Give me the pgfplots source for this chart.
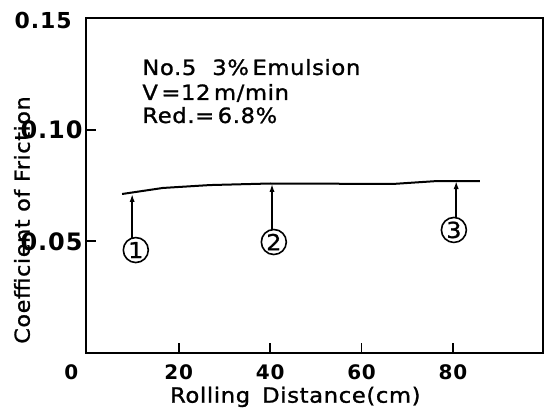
\documentclass[border=0pt]{standalone}
\usepackage{fontspec}
\setmainfont{DejaVu Sans}
\newfontfamily\lbl[FakeStretch=1.08,LetterSpace=3,FakeBold=1.2]{DejaVu Sans}
\newfontfamily\num[FakeStretch=1.0,LetterSpace=4]{DejaVu Sans}
\usepackage{pgfplots}
\pgfplotsset{compat=1.18}
\usetikzlibrary{arrows.meta}

\begin{document}
\begin{tikzpicture}
\path[use as bounding box] (0,0) rectangle (272pt,207pt);
\begin{axis}[
  at={(43pt,30.5pt)}, anchor=south west,
  scale only axis, width=228.5pt, height=167.5pt,
  xmin=-0.3, xmax=99.7, ymin=0, ymax=0.15,
  clip=false,
  axis line style={line width=1pt},
  every tick/.style={black, line width=0.9pt},
  major tick length=5pt,
  tick align=inside,
  xtick pos=bottom, ytick pos=left,
  xtick={20,40,60,80},
  ytick={0.05,0.10},
  yticklabels={0.05,0.10},
  /pgf/number format/assume math mode=true,
  xticklabel style={font=\num\bfseries\fontsize{10}{12}\selectfont, yshift=-2.5pt},
  yticklabel style={font=\num\bfseries\fontsize{12}{13}\selectfont, inner sep=1.5pt},
  extra y ticks={0.15}, extra y tick labels={0.15},
  extra y tick style={major tick length=0pt,
    yticklabel style={font=\num\bfseries\fontsize{11}{12}\selectfont, xshift=-5.5pt, yshift=-1pt}},
  extra x ticks={0}, extra x tick labels={0},
  extra x tick style={major tick length=0pt, xticklabel style={xshift=-8pt}},
  xlabel={Rolling\hspace{6pt}Distance(cm)},
  xlabel style={at={(axis description cs:0.458,-0.131)}, anchor=center,
    font=\lbl\fontsize{10.5}{10}\selectfont},
  ylabel={Coefficient of Friction},
  ylabel style={at={(axis description cs:-0.14,0.397)}, anchor=center,
    font=\lbl\fontsize{10.3}{10}\selectfont},
]
% friction coefficient along the rolling distance
\addplot[black, line width=1pt] coordinates {
  (7.6,0.0712) (16.5,0.0739) (26.8,0.0752) (40.0,0.0759)
  (66.9,0.0757) (76.5,0.0770) (85.9,0.0770)
};
% sampling positions
\addplot[black, line width=0.75pt, -{Latex[length=4pt,width=2.6pt]}]
  coordinates {(9.8,0.0515) (9.8,0.0712)};
\addplot[black, line width=0.75pt, -{Latex[length=4pt,width=2.6pt]}]
  coordinates {(40.4,0.0551) (40.4,0.0757)};
\addplot[black, line width=0.75pt, -{Latex[length=4pt,width=2.6pt]}]
  coordinates {(80.7,0.0605) (80.7,0.0770)};
\addplot[draw=none, mark=none, point meta=explicit symbolic,
  nodes near coords={\pgfplotspointmeta},
  every node near coord/.style={anchor=center, circle, draw, line width=0.8pt,
    minimum size=12.5pt, inner sep=0pt, font=\lbl\fontsize{11}{10}\selectfont}]
  coordinates {(10.6,0.0461)[1] (40.8,0.0497)[2] (80.2,0.0551)[3]};
% test conditions
\node[anchor=base west, inner sep=0pt, font=\lbl\fontsize{10.5}{10}\selectfont]
  at (axis cs:11.95,0.1245) {No.5\hspace{8pt}3\%\,Emulsion};
\node[anchor=base west, inner sep=0pt, font=\lbl\fontsize{10.5}{10}\selectfont]
  at (axis cs:11.95,0.1133) {V\,=12\,m/min};
\node[anchor=base west, inner sep=0pt, font=\lbl\fontsize{10.5}{10}\selectfont]
  at (axis cs:11.95,0.1030) {Red.=\,6.8\%};
\end{axis}
\end{tikzpicture}
\end{document}
